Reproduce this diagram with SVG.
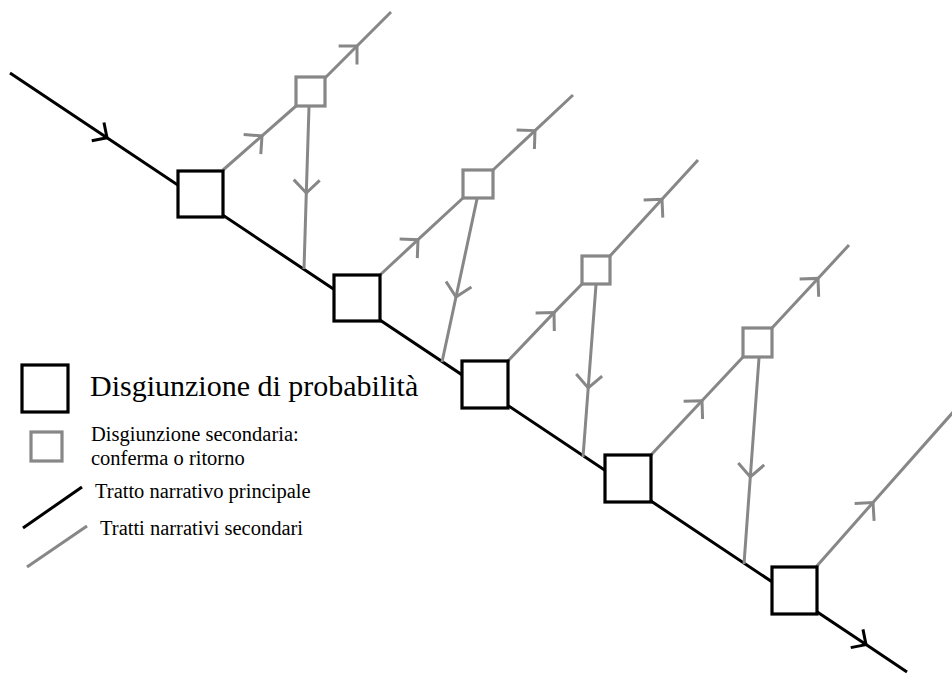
<svg xmlns="http://www.w3.org/2000/svg" width="952" height="675" viewBox="0 0 952 675">
<style>
.main{fill:none;stroke:#000;stroke-width:3;}
.sec{fill:none;stroke:#878787;stroke-width:3;}
.big{fill:#fff;stroke:#000;stroke-width:3.2;}
.small{fill:#fff;stroke:#878787;stroke-width:3.2;}
.t{font-family:"Liberation Serif","Times New Roman",serif;fill:#000;}
.ma{marker-mid:url(#ab);}
.sa{marker-mid:url(#ag);}
</style>
<defs>
<marker id="ab" markerUnits="userSpaceOnUse" viewBox="-20 -20 40 40" markerWidth="40" markerHeight="40" refX="0" refY="0" orient="auto">
<path d="M-11,-11 L0,0 L-11,11" fill="none" stroke="#000" stroke-width="3"/>
</marker>
<marker id="ag" markerUnits="userSpaceOnUse" viewBox="-20 -20 40 40" markerWidth="40" markerHeight="40" refX="0" refY="0" orient="auto">
<path d="M-13,-13 L0,0 L-13,13" fill="none" stroke="#878787" stroke-width="3"/>
</marker>
</defs>
<rect width="952" height="675" fill="#fff"/>
<g id="connectors">
<path class="main ma" d="M10,73 L107,137.8 L866,644.6 L907,672"/>
<path class="sec sa" d="M223,170 L262,135.8 L296,106"/>
<path class="sec sa" d="M325,78 L357,46 L391,12"/>
<path class="sec sa" d="M309,107 L306.3,193 L304,269"/>
<path class="sec sa" d="M380,275 L418,239.7 L463,198"/>
<path class="sec sa" d="M493,170 L535,130.6 L573,95"/>
<path class="sec sa" d="M477,199 L456,297 L442,362"/>
<path class="sec sa" d="M507,362 L554,312.6 L582,284"/>
<path class="sec sa" d="M610,256 L662,199.3 L698,160"/>
<path class="sec sa" d="M596,285 L588.2,388 L583,457"/>
<path class="sec sa" d="M651,455 L702,400.7 L743,357"/>
<path class="sec sa" d="M772,328 L818,278.4 L849,245"/>
<path class="sec sa" d="M759,358 L750.3,477 L744,564"/>
<path class="sec sa" d="M816,567 L873,502.5 L955,410"/>
</g>
<g id="node-b1"><rect class="big" x="178" y="171" width="45" height="46"/></g>
<g id="node-b2"><rect class="big" x="334" y="275" width="46" height="46"/></g>
<g id="node-b3"><rect class="big" x="462" y="361" width="46" height="47"/></g>
<g id="node-b4"><rect class="big" x="605" y="455" width="46" height="47"/></g>
<g id="node-b5"><rect class="big" x="772" y="567" width="45" height="47"/></g>
<g id="node-s1"><rect class="small" x="296" y="77" width="29" height="29"/></g>
<g id="node-s2"><rect class="small" x="463" y="170" width="30" height="28"/></g>
<g id="node-s3"><rect class="small" x="582" y="256" width="28" height="28"/></g>
<g id="node-s4"><rect class="small" x="743" y="328" width="29" height="29"/></g>
<g id="legend">
<rect class="big" x="22" y="365" width="46" height="47"/>
<text class="t" x="90" y="396" font-size="30">Disgiunzione di probabilità</text>
<rect class="small" x="31" y="432" width="31" height="29"/>
<text class="t" x="91" y="441" font-size="20.5">Disgiunzione secondaria:</text>
<text class="t" x="91" y="465" font-size="20.5">conferma o ritorno</text>
<line class="main" x1="23" y1="528" x2="82" y2="487"/>
<text class="t" x="95" y="498" font-size="20.5">Tratto narrativo principale</text>
<line class="sec" x1="27" y1="567" x2="87" y2="526"/>
<text class="t" x="100" y="535" font-size="20.5">Tratti narrativi secondari</text>
</g>
</svg>
